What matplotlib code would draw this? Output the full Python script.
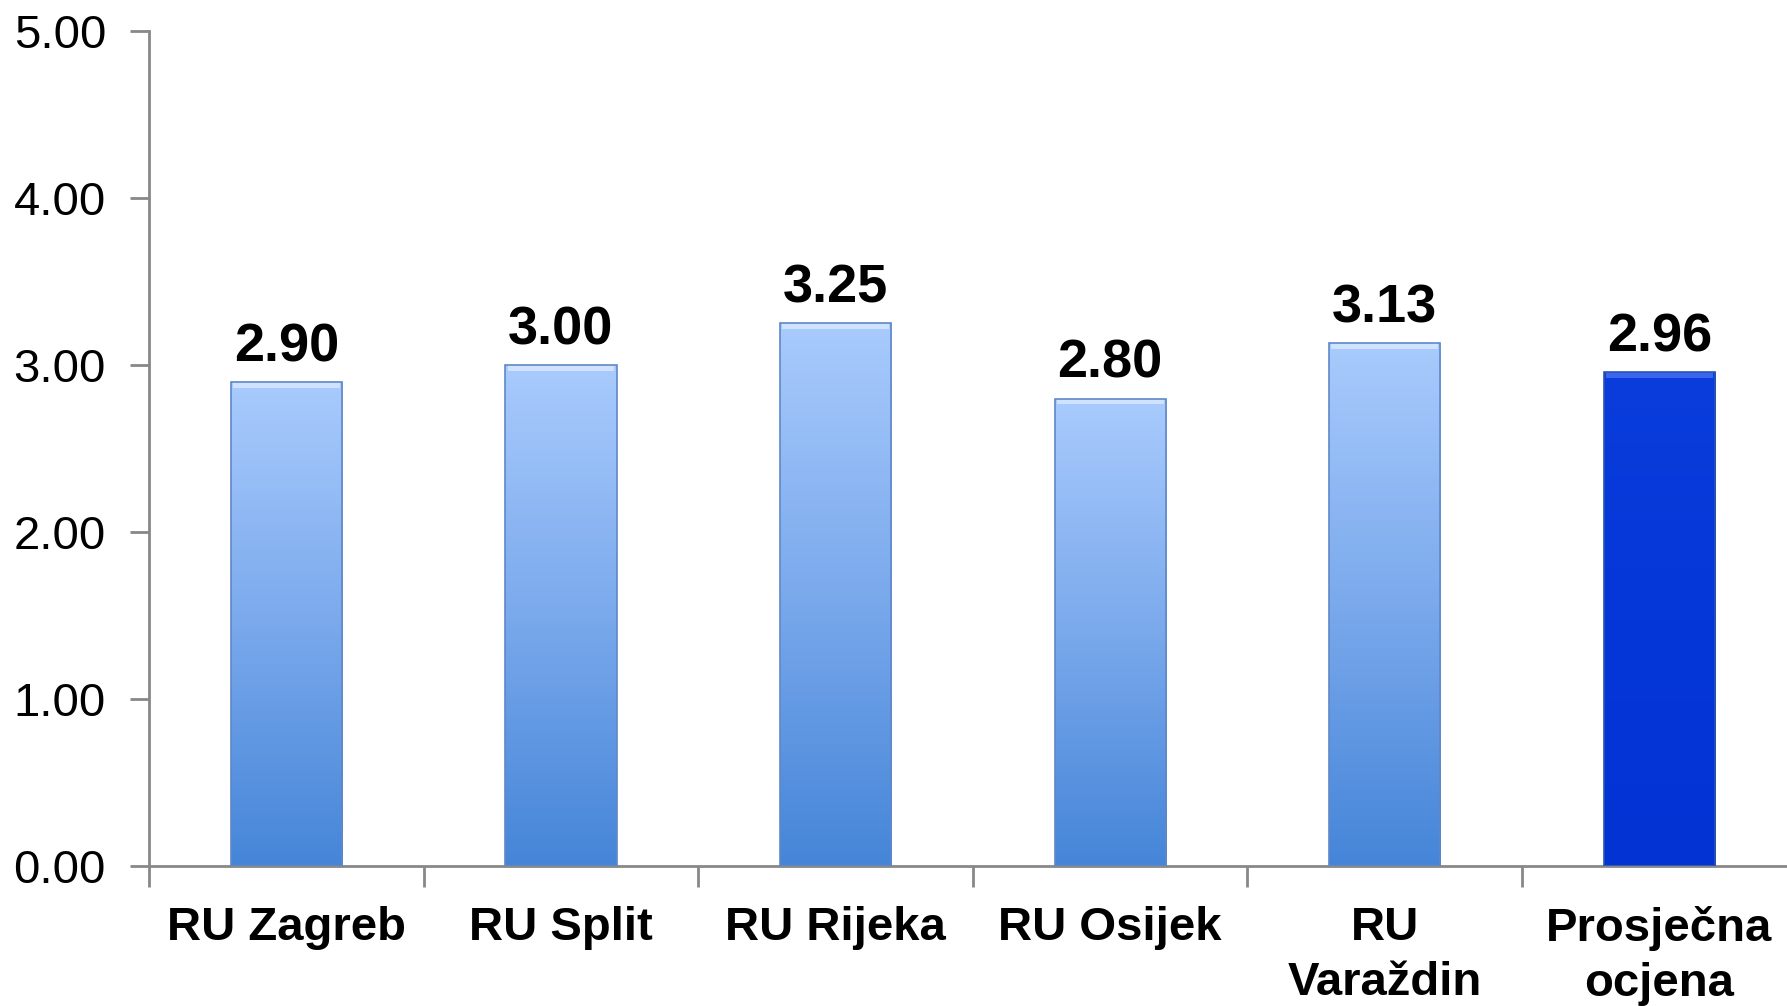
import numpy as np
import matplotlib.pyplot as plt
from matplotlib.colors import LinearSegmentedColormap

# podaci
kategorije = ["RU Zagreb", "RU Split", "RU Rijeka", "RU Osijek", "RU\nVaraždin", "Prosječna\nocjena"]
ocjene = [2.90, 3.00, 3.25, 2.80, 3.13, 2.96]
oznake = ["2.90", "3.00", "3.25", "2.80", "3.13", "2.96"]
y_ticks = [0, 1, 2, 3, 4, 5]

plt.rcParams['font.family'] = ['Liberation Sans', 'DejaVu Sans']

fig = plt.figure(figsize=(17.87, 10.06), dpi=100)
ax = fig.add_axes([0.0834, 0.139, 0.922, 0.830])

x = np.arange(len(kategorije))
bars = ax.bar(x, ocjene, width=0.405, color='none', edgecolor='none', zorder=2)

light = LinearSegmentedColormap.from_list('light', ['#4585d8', '#7aa9ec', '#a9cbfd'])
dark = LinearSegmentedColormap.from_list('dark', ['#0433d4', '#0536d8', '#0a3ddc'])
grad = np.linspace(0, 1, 256).reshape(-1, 1)

for i, b in enumerate(bars):
    cm = dark if i == len(bars) - 1 else light
    x0, w, h = b.get_x(), b.get_width(), b.get_height()
    im = ax.imshow(grad, cmap=cm, aspect='auto', origin='lower',
                   extent=[x0, x0 + w, 0, h], zorder=2)
    im.set_clip_path(b)
    # svijetli vrh (bevel) i obrub
    top = '#3a66ee' if i == len(bars) - 1 else '#cfe3ff'
    ax.bar(x[i], 0.035, bottom=h - 0.035, width=w * 0.96, color=top, edgecolor='none', zorder=3)
    edge = '#2a55b0' if i == len(bars) - 1 else '#5f88c8'
    ax.bar(x[i], h, width=w, color='none', edgecolor=edge, linewidth=1.2, zorder=3)
    ax.annotate(oznake[i], (x[i], h), xytext=(0, 7), textcoords='offset points',
                ha='center', va='bottom', fontsize=39, fontweight='bold', color='black')

ax.set_xlim(-0.5, len(kategorije) - 0.5)
ax.set_ylim(0, 5)
ax.set_yticks(y_ticks)
ax.set_yticklabels(["%.2f" % v for v in y_ticks], fontsize=34)

ax.set_xticks(x)
ax.set_xticklabels(kategorije, fontsize=34, fontweight='bold', linespacing=1.3)
ax.set_xticks(np.arange(len(kategorije) + 1) - 0.5, minor=True)
ax.tick_params(axis='x', which='major', length=0, pad=29)
ax.tick_params(axis='x', which='minor', length=15, width=2, color='#888888')
ax.tick_params(axis='y', length=14, width=2, color='#888888', pad=17)

for s in ['top', 'right']:
    ax.spines[s].set_visible(False)
for s in ['left', 'bottom']:
    ax.spines[s].set_color('#888888')
    ax.spines[s].set_linewidth(2)

fig.savefig('out.png', dpi=100)
